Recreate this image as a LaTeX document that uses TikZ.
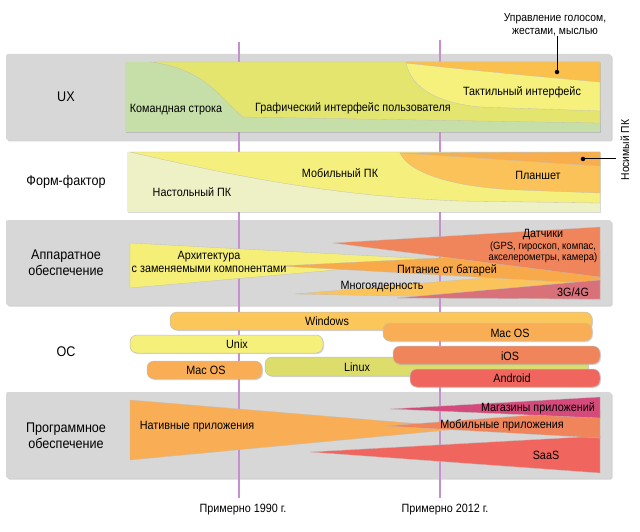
\documentclass[tikz,border=0pt]{standalone}
\usepackage{fontspec}
\setmainfont[FakeStretch=0.9]{Liberation Sans}
\usetikzlibrary{shadows}
\definecolor{bandgray}{HTML}{D7D7D7}
\definecolor{violetline}{HTML}{C690D0}
\definecolor{cligreen}{HTML}{C6DFA8}
\definecolor{guiyellow}{HTML}{E4E56F}
\definecolor{tactyellow}{HTML}{F6F07C}
\definecolor{voiceorange}{HTML}{FBBF4C}
\definecolor{desktoppale}{HTML}{EEF1C6}
\definecolor{mobyellow}{HTML}{F5F07D}
\definecolor{tabletorange}{HTML}{FBC25A}
\definecolor{wearorange}{HTML}{F8AE4C}
\definecolor{archyellow}{HTML}{F5EF78}
\definecolor{multiorange}{HTML}{FBC45A}
\definecolor{battorange}{HTML}{F8A94A}
\definecolor{sensorred}{HTML}{F0845A}
\definecolor{netpink}{HTML}{D9717A}
\definecolor{winorange}{HTML}{FBC65A}
\definecolor{unixyellow}{HTML}{F5F07A}
\definecolor{macorange}{HTML}{F9AE55}
\definecolor{linuxolive}{HTML}{DCDD6A}
\definecolor{iosred}{HTML}{F0845A}
\definecolor{androidred}{HTML}{F0665E}
\definecolor{nativeorange}{HTML}{F9AE55}
\definecolor{storemagenta}{HTML}{D44A7A}
\definecolor{mobappred}{HTML}{F0845A}
\definecolor{saasred}{HTML}{F0665E}
\begin{document}
\begin{tikzpicture}[x=1pt,y=-1pt,
  band/.style={fill=bandgray, rounded corners=2pt, drop shadow={shadow xshift=1.5pt,shadow yshift=-1.5pt,opacity=0.35}},
  inner/.style={drop shadow={shadow xshift=1pt,shadow yshift=-1pt,opacity=0.3}},
  cat/.style={font=\fontsize{14}{16}\selectfont, align=center},
  lbl/.style={font=\fontsize{12}{13}\selectfont, align=center, inner sep=0pt},
  small/.style={font=\fontsize{10.5}{11.5}\selectfont, align=center, inner sep=0pt},
  pill/.style={rounded corners=7pt, draw=black!25, line width=0.5pt, drop shadow={shadow xshift=1pt,shadow yshift=-1pt,opacity=0.3}},
  wedge/.style={draw=black!25, line width=0.3pt},
  yearline/.style={draw=violetline, line width=2.5pt},
  callout/.style={draw=black, line width=1pt},
  dot/.style={fill=black, circle, inner sep=0pt, minimum size=4.5pt}]
\useasboundingbox (0,0) rectangle (640,532);

% gray bands
\path[band] (6,54) rectangle (611,140);
\path[band] (6,220) rectangle (611,305);
\path[band] (6,392) rectangle (611,478);

% year lines
\coordinate (y1top) at (239,42);
\coordinate (y1bot) at (239,498);
\coordinate (y2top) at (440,40);
\coordinate (y2bot) at (440,498);
\draw[yearline] (y1top) -- (y1bot);
\draw[yearline] (y2top) -- (y2bot);
\node[font=\fontsize{12}{13}\selectfont] (y1990) at (243,510) {Примерно 1990 г.};
\node[font=\fontsize{12}{13}\selectfont] (y2012) at (445,510) {Примерно 2012 г.};

% ---------- UX ----------
\node[cat] (ux) at (66,97) {UX};
\path[inner, fill=cligreen] (125,62) rectangle (600,132);
\fill[guiyellow, wedge] (150,62) .. controls (205,68) and (222,100) .. (243,117) -- (600,123) -- (600,62) -- cycle;
\fill[tactyellow, wedge] (406,63) .. controls (412,90) and (440,103) .. (480,107) -- (600,111) -- (600,62) -- cycle;
\fill[voiceorange, wedge] (406,63) .. controls (450,68) and (520,75) .. (600,82) -- (600,62) -- (406,62) -- cycle;
\node[lbl] (cli) at (176,110) {Командная строка};
\node[lbl] (gui) at (353,108) {Графический интерфейс пользователя};
\node[lbl] (tact) at (522,92) {Тактильный интерфейс};
\node[lbl, font=\fontsize{11.5}{12.5}\selectfont] (voice) at (555,25) {Управление голосом,\\жестами, мыслью};
\node[dot] (voicedot) at (557,72) {};
\draw[callout] (voice.south -| voicedot) -- (voicedot);

% ---------- Form factor ----------
\node[cat] (ff) at (66,182) {Форм-фактор};
\path[inner, fill=desktoppale] (127,152) rectangle (600,212);
\fill[mobyellow, wedge] (130,152) .. controls (230,175) and (330,196) .. (460,201) -- (600,203) -- (600,152) -- cycle;
\fill[tabletorange, wedge] (400,153) .. controls (410,175) and (460,188) .. (520,190) -- (600,193) -- (600,152) -- cycle;
\fill[wearorange, wedge] (400,153) .. controls (450,156) and (520,161) .. (600,166) -- (600,152) -- cycle;
\node[lbl] (desk) at (192,192) {Настольный ПК};
\node[lbl] (mob) at (340,173) {Мобильный ПК};
\node[lbl] (tab) at (538,175) {Планшет};
\node[dot] (weardot) at (583,159) {};
\node[lbl, rotate=90, font=\fontsize{11.5}{12.5}\selectfont] (wear) at (625,150) {Носимый ПК};
\draw[callout] (weardot) -- (616,159);

% ---------- Hardware ----------
\node[cat] (hw) at (66,263) {Аппаратное\\обеспечение};
\fill[archyellow, wedge] (130,243) -- (450,260) -- (130,288) -- cycle;
\fill[multiorange, wedge] (295,294) -- (600,268) -- (600,300) -- cycle;
\fill[battorange, wedge] (280,266) -- (600,250) -- (600,284) -- cycle;
\fill[sensorred, wedge] (333,243) -- (600,227) -- (600,277) -- cycle;
\fill[netpink, wedge] (397,298) -- (600,280) -- (600,299) -- cycle;
\node[lbl] (arch) at (209,262) {Архитектура\\с заменяемыми компонентами};
\node[small] (sens) at (543,246) {{\fontsize{12}{12.5}\selectfont Датчики}\\(GPS, гироскоп, компас,\\акселерометры, камера)};
\node[lbl] (batt) at (447,270) {Питание от батарей};
\node[lbl] (multi) at (382,287) {Многоядерность};
\node[lbl] (net) at (573,292) {3G/4G};

% ---------- OS ----------
\node[cat] (os) at (66,352) {ОС};
\path[pill, fill=winorange] (170,312) rectangle (592,330);
\path[pill, fill=unixyellow] (130,335) rectangle (323,353);
\path[pill, fill=macorange] (147,361) rectangle (262,379);
\path[pill, fill=linuxolive] (265,357) rectangle (588,376);
\path[pill, fill=macorange] (383,323) rectangle (592,341);
\path[pill, fill=iosred] (393,346) rectangle (600,364);
\path[pill, fill=androidred] (410,369) rectangle (600,387);
\node[lbl] (win) at (327,321) {Windows};
\node[lbl] (unix) at (237,344) {Unix};
\node[lbl] (macold) at (206,370) {Mac OS};
\node[lbl] (linux) at (357,367) {Linux};
\node[lbl] (macnew) at (510,333) {Mac OS};
\node[lbl] (ios) at (510,356) {iOS};
\node[lbl] (android) at (512,378) {Android};

% ---------- Software ----------
\node[cat] (sw) at (66,436) {Программное\\обеспечение};
\fill[nativeorange, wedge] (130,400) -- (470,428) -- (130,460) -- cycle;
\fill[saasred, wedge] (310,452) -- (600,436) -- (600,473) -- cycle;
\fill[mobappred, wedge] (385,426) -- (600,410) -- (600,438) -- cycle;
\fill[storemagenta, wedge] (390,409) -- (600,397) -- (600,418) -- cycle;
\node[lbl] (native) at (197,427) {Нативные приложения};
\node[lbl] (stores) at (538,408) {Магазины приложений};
\node[lbl] (mobapps) at (502,425) {Мобильные приложения};
\node[lbl] (saas) at (546,455) {SaaS};
\end{tikzpicture}
\end{document}
